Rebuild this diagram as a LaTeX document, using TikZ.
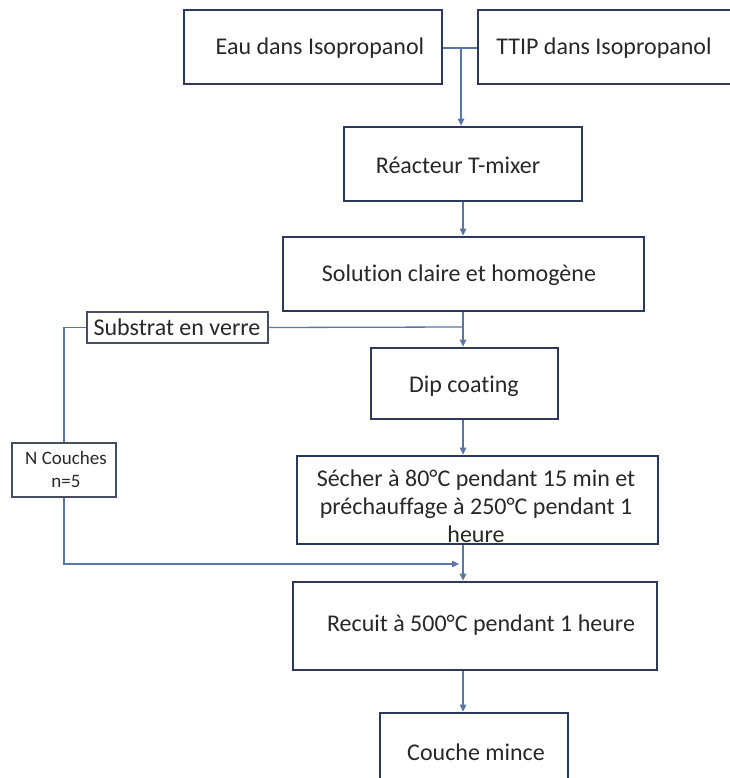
\documentclass[tikz,border=0pt]{standalone}
\usepackage{fontspec}
\setmainfont[RawFeature={-liga}]{Carlito}
\usetikzlibrary{arrows.meta}
\definecolor{boxc}{RGB}{44,56,92}
\definecolor{connc}{RGB}{88,118,168}
\definecolor{thinc}{RGB}{72,78,94}
\definecolor{txtc}{RGB}{40,40,40}
\tikzset{
  mainbox/.style={draw=boxc, line width=2.8pt, inner sep=0pt, fill=white},
  thinbox/.style={draw=thinc, line width=1.2pt, inner sep=0pt, fill=white},
  lbl/.style={text=txtc, inner sep=0pt, font=\fontsize{24}{28}\selectfont, align=center},
  smalllbl/.style={text=txtc, inner sep=0pt, font=\fontsize{19}{23}\selectfont, align=center},
  conn/.style={draw=connc, line width=1.3pt},
  arr/.style={conn, -{Triangle[length=7pt,width=6.5pt]}}
}
\begin{document}
\begin{tikzpicture}[x=1pt,y=-1pt]
\useasboundingbox (0,0) rectangle (729,778);
\fill[white] (0,0) rectangle (729,778);
\coordinate (colx) at (463,0);
% boxes
\node[mainbox, minimum width=258pt, minimum height=74pt] (eau) at (313,47) {};
\node[mainbox, minimum width=254pt, minimum height=74pt] (ttip) at (605,47) {};
\node[mainbox, minimum width=238pt, minimum height=74pt] (reac) at (463,164) {};
\node[mainbox, minimum width=361pt, minimum height=74pt] (sol) at (463.5,274) {};
\node[thinbox, minimum width=181pt, minimum height=31pt] (sub) at (177.5,327.5) {};
\node[mainbox, minimum width=187pt, minimum height=71pt] (dip) at (464.5,383.5) {};
\node[mainbox, minimum width=361pt, minimum height=88pt] (sech) at (477.5,500) {};
\node[thinbox, minimum width=104pt, minimum height=54pt] (nc) at (64,470) {};
\node[mainbox, minimum width=364pt, minimum height=88pt] (rec) at (475,626) {};
\node[mainbox, minimum width=188pt, minimum height=79pt] (cm) at (474,752.5) {};
% texts
\node[lbl] (eauT) at (320,48) {Eau dans Isopropanol};
\node[lbl] (ttipT) at (604,48) {TTIP dans Isopropanol};
\node[lbl] (reacT) at (458,165) {Réacteur T-mixer};
\node[lbl] (solT) at (459,275) {Solution claire et homogène};
\node[lbl] (subT) at (177,327) {Substrat en verre};
\node[lbl] (dipT) at (464,386) {Dip coating};
\node[lbl] (sechT) at (476,506) {Sécher à 80°C pendant 15 min et\\préchauffage à 250°C pendant 1\\heure};
\node[smalllbl] (ncT) at (66,469) {N Couches\\n=5};
\node[lbl] (recT) at (481,625) {Recuit à 500°C pendant 1 heure};
\node[lbl] (cmT) at (476,752) {Couche mince};
% connectors
\coordinate (j) at (461,48);
\draw[conn] (eau.east |- j) -- (ttip.west |- j);
\draw[arr] (j) -- (reac.north -| j);
\draw[arr] (reac.south -| colx) -- (sol.north -| colx);
\coordinate (m1) at (463,327);
\draw[conn] (sub.east) -- (m1);
\draw[arr] (sol.south -| colx) -- (dip.north -| colx);
\draw[conn] (sub.west) -| (nc.north);
\draw[arr] (dip.south -| colx) -- (sech.north -| colx);
\coordinate (m2) at (459,564);
\draw[arr] (nc.south) |- (m2);
\draw[arr] (sech.south -| colx) -- (rec.north -| colx);
\draw[arr] (rec.south -| colx) -- (cm.north -| colx);
\end{tikzpicture}
\end{document}
